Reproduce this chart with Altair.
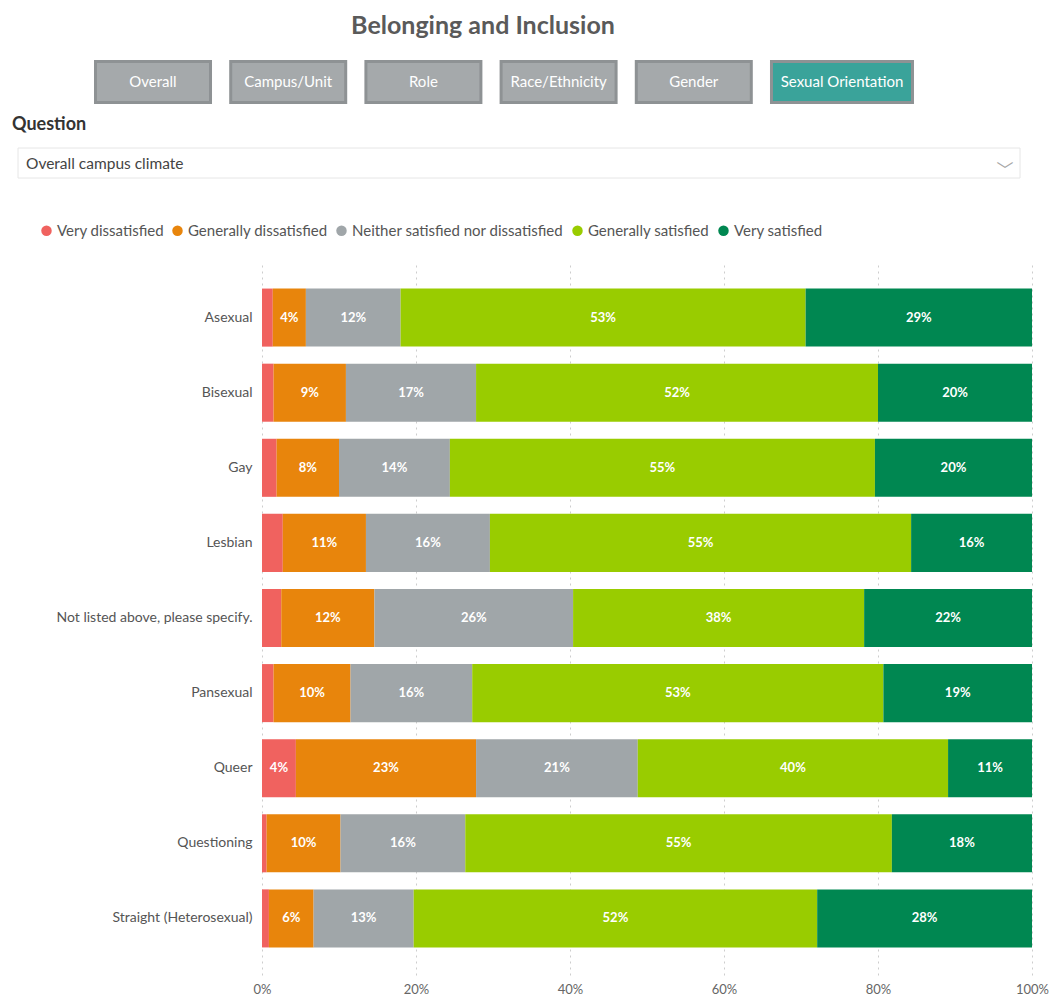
import altair as alt
import pandas as pd

# ---------------- data ----------------
groups = ["Asexual", "Bisexual", "Gay", "Lesbian", "Not listed above, please specify.",
          "Pansexual", "Queer", "Questioning", "Straight (Heterosexual)"]
categories = ["Very dissatisfied", "Generally dissatisfied",
              "Neither satisfied nor dissatisfied", "Generally satisfied", "Very satisfied"]
very_dissatisfied = [1.4, 1.5, 1.9, 2.7, 2.5, 1.5, 4.4, 0.6, 0.9]
generally_dissatisfied = [4.3, 9.4, 8.1, 10.8, 12.1, 10.0, 23.4, 9.6, 5.8]
neither = [12.3, 16.9, 14.4, 16.1, 25.8, 15.8, 21.0, 16.2, 13.0]
generally_satisfied = [52.6, 52.2, 55.2, 54.7, 37.8, 53.4, 40.3, 55.4, 52.4]
very_satisfied = [29.4, 20.0, 20.4, 15.7, 21.8, 19.3, 10.9, 18.2, 27.9]
colors = ["#F0625F", "#E8850C", "#A0A6A9", "#99CC00", "#008751"]

buttons = ["Overall", "Campus/Unit", "Role", "Race/Ethnicity", "Gender", "Sexual Orientation"]
active_button = ["Sexual Orientation"]
x_ticks = [0, 20, 40, 60, 80, 100]

series = [very_dissatisfied, generally_dissatisfied, neither, generally_satisfied, very_satisfied]
rows = []
for ci, (cat, vals) in enumerate(zip(categories, series)):
    for g, v in zip(groups, vals):
        rows.append({"group": g, "category": cat, "value": v, "order": ci})
df = pd.DataFrame(rows)

FONT = "Lato"
# plot origin on the page (plot area = 262..1032 x 261..975)
OX, OY = 262, 261
def px(x):
    return x - OX
def py(y):
    return y - OY

one = pd.DataFrame({"k": [0]})
inactive = [b for b in buttons if b not in active_button]

# ---------------- main chart ----------------
bars = alt.Chart(df).mark_bar().encode(
    x=alt.X("value:Q", stack="zero", scale=alt.Scale(domain=[0, 100], nice=False),
            axis=alt.Axis(values=x_ticks, labelExpr="datum.value + '%'", grid=True,
                          gridDash=[2, 4], gridColor="#cdcdcd", gridWidth=1,
                          domain=False, ticks=False, labelPadding=8, labelColor="#666666",
                          labelFontSize=13, labelFont=FONT, title=None,
                          labelFlush=False, labelOverlap=False)),
    y=alt.Y("group:N", sort=groups,
            scale=alt.Scale(paddingInner=0.227, paddingOuter=0.367),
            axis=alt.Axis(title=None, domain=False, ticks=False, labelPadding=10,
                          labelFontSize=14, labelColor="#555555", labelFont=FONT,
                          labelLimit=400)),
    color=alt.Color("category:N", sort=categories,
                    scale=alt.Scale(domain=categories, range=colors),
                    legend=alt.Legend(orient="none", legendX=px(39), legendY=py(223),
                                      direction="horizontal", title=None,
                                      symbolType="circle", symbolSize=110,
                                      symbolStrokeWidth=0, labelFont=FONT,
                                      labelFontSize=15, labelColor="#555555",
                                      labelOffset=3, columnPadding=6, padding=0,
                                      labelLimit=400)),
    order=alt.Order("order:Q"),
)

labels = alt.Chart(df).transform_stack(
    stack="value", groupby=["group"], sort=[alt.SortField("order")], as_=["x0", "x1"]
).transform_calculate(
    mid="(datum.x0 + datum.x1) / 2", lab="round(datum.value) + '%'"
).transform_filter("datum.value >= 3.5").mark_text(
    color="white", fontWeight="bold", fontSize=13, font=FONT
).encode(
    x=alt.X("mid:Q"),
    y=alt.Y("group:N", sort=groups),
    text="lab:N",
)

main = alt.layer(bars, labels)

# ---------------- header ----------------
title = alt.Chart(one).mark_text(
    text="Belonging and Inclusion", font=FONT, fontSize=25, fontWeight="bold",
    color="#5a5a5a", align="center", baseline="middle"
).encode(x=alt.value(px(483)), y=alt.value(py(26)))

bscale = alt.Scale(domain=buttons, range=[px(94), px(888)], paddingInner=0.127, paddingOuter=0)
grey_btn = alt.Chart(pd.DataFrame({"button": inactive})).mark_bar(
    width=115, color="#A5A9AB", stroke="#8E9294", strokeWidth=3
).encode(
    x=alt.X("button:N", scale=bscale, axis=None),
    y=alt.value(py(61.5)), y2=alt.value(py(102.5)),
)
teal_btn = alt.Chart(pd.DataFrame({"button": active_button})).mark_bar(
    width=141, xOffset=13, color="#3AA39A", stroke="#8E9294", strokeWidth=3
).encode(
    x=alt.X("button:N", scale=bscale, axis=None),
    y=alt.value(py(61.5)), y2=alt.value(py(102.5)),
)
grey_text = alt.Chart(pd.DataFrame({"button": inactive})).mark_text(
    color="white", font=FONT, fontSize=15, baseline="middle"
).encode(
    x=alt.X("button:N", scale=bscale, axis=None),
    y=alt.value(py(82)),
    text="button:N",
)
teal_text = alt.Chart(pd.DataFrame({"button": active_button})).mark_text(
    color="white", font=FONT, fontSize=15, baseline="middle", dx=13
).encode(
    x=alt.X("button:N", scale=bscale, axis=None),
    y=alt.value(py(82)),
    text="button:N",
)
btns = alt.layer(grey_btn, teal_btn, grey_text, teal_text)

question = alt.Chart(one).mark_text(
    text="Question", font=FONT, fontSize=18, fontWeight="bold", color="#333333",
    align="left", baseline="middle"
).encode(x=alt.value(px(12)), y=alt.value(py(125)))

dropdown = alt.Chart(one).mark_rect(
    fill="white", stroke="#e6e6e6", strokeWidth=1
).encode(x=alt.value(px(18)), x2=alt.value(px(1020)),
         y=alt.value(py(148)), y2=alt.value(py(178)))

dd_text = alt.Chart(one).mark_text(
    text="Overall campus climate", font=FONT, fontSize=15.5, color="#444444",
    align="left", baseline="middle"
).encode(x=alt.value(px(26)), y=alt.value(py(164)))

chevron = alt.Chart(one).mark_text(
    text="﹀", font="Noto Sans CJK SC", fontSize=17, color="#a6a6a6",
    align="center", baseline="middle"
).encode(x=alt.value(px(1005)), y=alt.value(py(171)))

chart = alt.layer(
    main, btns, title, question, dropdown, dd_text, chevron
).resolve_scale(x="independent").properties(
    width=770, height=714,
    autosize=alt.AutoSizeParams(type="none"),
    padding={"left": 254, "top": 253, "right": 24, "bottom": 24},
    background="white",
).configure_view(stroke=None)

chart.save("out.html", embed_options={"renderer": "svg", "actions": False})
